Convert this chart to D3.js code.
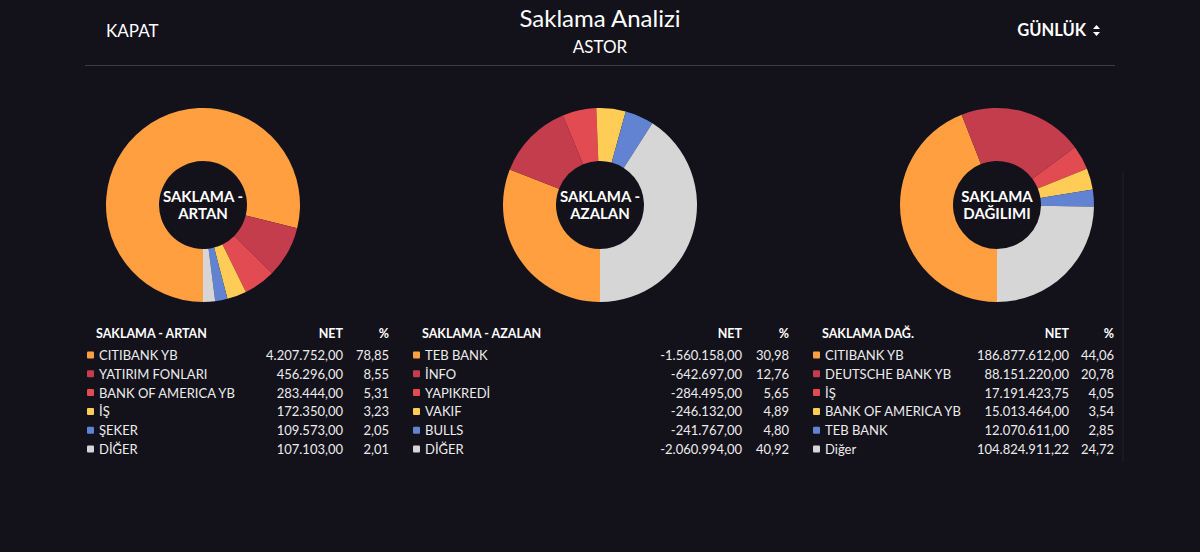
<!DOCTYPE html>
<html lang="tr">
<head>
    <meta charset="utf-8">
    <title>Saklama Analizi</title>
    <script src="https://cdnjs.cloudflare.com/ajax/libs/d3/7.8.5/d3.min.js"></script>
    <style>
        html, body { margin: 0; padding: 0; background: #13121b; }
        svg { display: block; font-family: Lato, "Noto Sans", sans-serif; }
    </style>
</head>
<body>
    <svg id="chart"></svg>

    <script>
        // Data
        const artanNames = ['CITIBANK YB', 'YATIRIM FONLARI', 'BANK OF AMERICA YB', 'İŞ', 'ŞEKER', 'DİĞER'];
        const artanNet = [4207752, 456296, 283444, 172350, 109573, 107103];

        const azalanNames = ['TEB BANK', 'İNFO', 'YAPIKREDİ', 'VAKIF', 'BULLS', 'DİĞER'];
        const azalanNet = [-1560158, -642697, -284495, -246132, -241767, -2060994];

        const dagilimNames = ['CITIBANK YB', 'DEUTSCHE BANK YB', 'İŞ', 'BANK OF AMERICA YB', 'TEB BANK', 'Diğer'];
        const dagilimNet = [186877612, 88151220, 17191423.75, 15013464, 12070611, 104824911.22];

        const sliceColors = ['#ff9f40', '#c33d4c', '#e24b52', '#ffcd56', '#6183d2', '#d6d6d6'];

        const panels = [
            { names: artanNames, net: artanNet, header: 'SAKLAMA - ARTAN', center: ['SAKLAMA -', 'ARTAN'] },
            { names: azalanNames, net: azalanNet, header: 'SAKLAMA - AZALAN', center: ['SAKLAMA -', 'AZALAN'] },
            { names: dagilimNames, net: dagilimNet, header: 'SAKLAMA DAĞ.', center: ['SAKLAMA', 'DAĞILIMI'] }
        ];

        // table column positions (left of label, right edge of NET, right edge of %)
        const tableCols = [[96, 343, 389], [422, 742, 789], [822, 1069, 1114]];

        const width = 1200;
        const height = 552;

        const tr = d3.formatLocale({ decimal: ',', thousands: '.', grouping: [3], currency: ['', ''], minus: '-' });
        const fmtNet = tr.format(',.2f');
        const fmtPct = tr.format('.2f');

        const svg = d3.select('#chart')
            .attr('width', width)
            .attr('height', height);

        svg.append('rect')
            .attr('width', width)
            .attr('height', height)
            .attr('fill', '#13121b');

        // Header
        svg.append('text')
            .attr('x', 106).attr('y', 37)
            .attr('fill', '#ffffff')
            .style('font-size', '17px')
            .text('KAPAT');

        svg.append('text')
            .attr('x', 600).attr('y', 27)
            .attr('text-anchor', 'middle')
            .attr('fill', '#ffffff')
            .style('font-size', '24px')
            .text('Saklama Analizi');

        svg.append('text')
            .attr('x', 600).attr('y', 53)
            .attr('text-anchor', 'middle')
            .attr('fill', '#ffffff')
            .style('font-size', '17px')
            .text('ASTOR');

        svg.append('text')
            .attr('x', 1086).attr('y', 36)
            .attr('text-anchor', 'end')
            .attr('fill', '#ffffff')
            .style('font-size', '16.5px')
            .style('font-weight', 'bold')
            .text('GÜNLÜK');

        // little sort arrows next to GÜNLÜK
        svg.append('path')
            .attr('d', 'M1093,29 L1096.5,25 L1100,29 Z M1093,32 L1096.5,36 L1100,32 Z')
            .attr('fill', '#ffffff');

        svg.append('line')
            .attr('x1', 85).attr('x2', 1115)
            .attr('y1', 65.5).attr('y2', 65.5)
            .attr('stroke', '#3a3a48')
            .attr('stroke-width', 1);

        // scrollbar track on the right
        svg.append('line')
            .attr('x1', 1123).attr('x2', 1123)
            .attr('y1', 172).attr('y2', 462)
            .attr('stroke', '#1a1923')
            .attr('stroke-width', 2);

        const x = d3.scalePoint()
            .domain(d3.range(panels.length))
            .range([203, 997]);

        const rowY = d3.scalePoint()
            .domain(d3.range(6))
            .range([355, 449]);

        const pie = d3.pie()
            .sort(null)
            .startAngle(Math.PI)
            .endAngle(3 * Math.PI)
            .value(d => Math.abs(d));

        const arc = d3.arc()
            .innerRadius(44)
            .outerRadius(97);

        panels.forEach((p, i) => {
            const cx = x(i);
            const cy = 205;

            const g = svg.append('g')
                .attr('transform', `translate(${cx},${cy})`);

            g.selectAll('path')
                .data(pie(p.net))
                .enter().append('path')
                .attr('d', arc)
                .attr('fill', (d, j) => sliceColors[j]);

            g.selectAll('text')
                .data(p.center)
                .enter().append('text')
                .attr('text-anchor', 'middle')
                .attr('y', (d, j) => j * 17 - 3)
                .attr('fill', '#ffffff')
                .style('font-size', '15px')
                .style('font-weight', 'bold')
                .text(d => d);

            // table
            const [left, netRight, pctRight] = tableCols[i];
            const total = d3.sum(p.net, v => Math.abs(v));

            const t = svg.append('g');

            t.append('text')
                .attr('x', left).attr('y', 338)
                .attr('fill', '#ffffff')
                .style('font-size', '12.5px')
                .style('font-weight', 'bold')
                .text(p.header);

            t.append('text')
                .attr('x', netRight).attr('y', 338)
                .attr('text-anchor', 'end')
                .attr('fill', '#ffffff')
                .style('font-size', '12.5px')
                .style('font-weight', 'bold')
                .text('NET');

            t.append('text')
                .attr('x', pctRight).attr('y', 338)
                .attr('text-anchor', 'end')
                .attr('fill', '#ffffff')
                .style('font-size', '12.5px')
                .style('font-weight', 'bold')
                .text('%');

            const rows = t.selectAll('g.row')
                .data(p.names.map((n, j) => ({ name: n, net: p.net[j], j })))
                .enter().append('g')
                .attr('class', 'row')
                .attr('transform', d => `translate(0,${rowY(d.j)})`);

            rows.append('rect')
                .attr('x', left - 9).attr('y', -3.5)
                .attr('width', 7).attr('height', 7)
                .attr('rx', 1)
                .attr('fill', d => sliceColors[d.j]);

            rows.append('text')
                .attr('x', left + 3).attr('y', 5)
                .attr('fill', '#ececec')
                .style('font-size', '13px')
                .text(d => d.name);

            rows.append('text')
                .attr('x', netRight).attr('y', 5)
                .attr('text-anchor', 'end')
                .attr('fill', '#ececec')
                .style('font-size', '13px')
                .text(d => fmtNet(d.net));

            rows.append('text')
                .attr('x', pctRight).attr('y', 5)
                .attr('text-anchor', 'end')
                .attr('fill', '#ececec')
                .style('font-size', '13px')
                .text(d => fmtPct(Math.abs(d.net) / total * 100));
        });
    </script>
</body>
</html>
